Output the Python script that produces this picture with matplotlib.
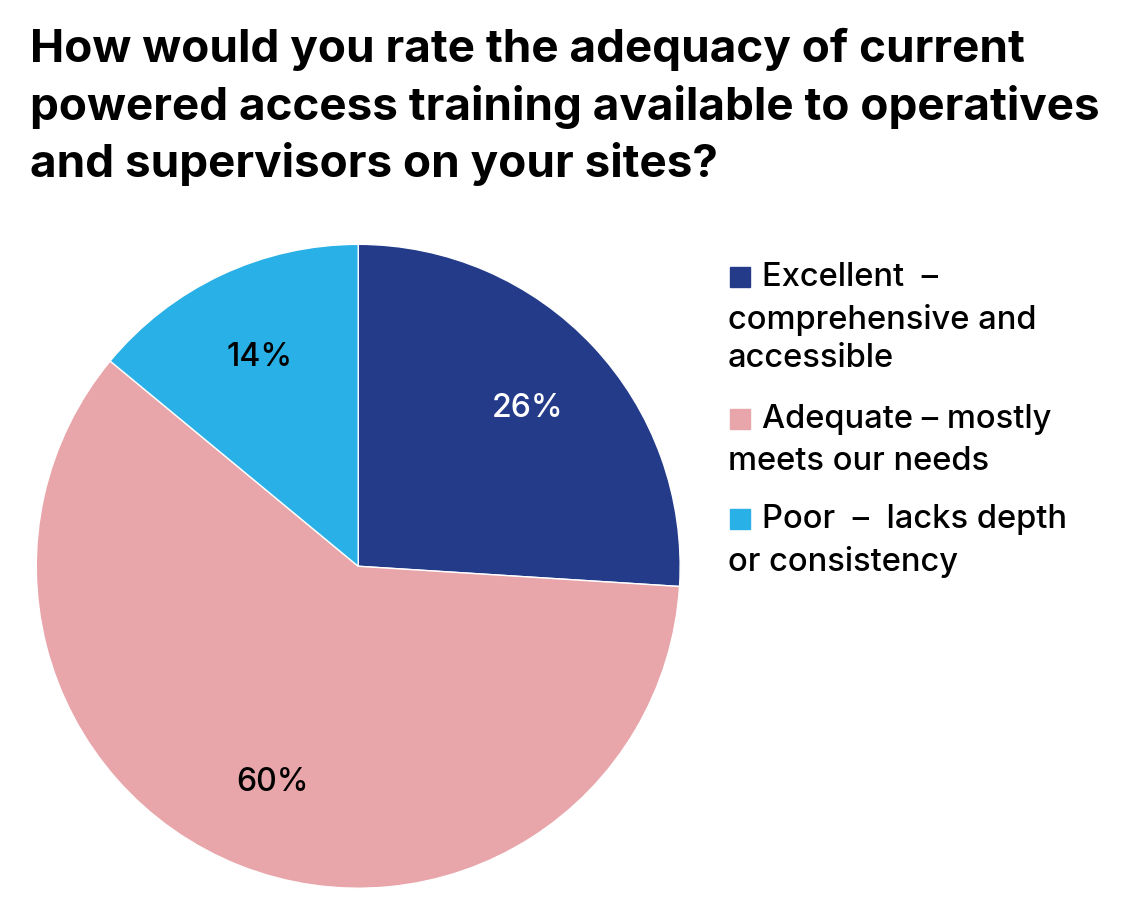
import matplotlib
matplotlib.use('Agg')
import matplotlib.pyplot as plt
from matplotlib.patches import Rectangle

plt.rcParams['font.family'] = ['Inter', 'DejaVu Sans']

labels = ['Excellent  –\ncomprehensive and\naccessible',
          'Adequate – mostly\nmeets our needs',
          'Poor  –  lacks depth\nor consistency']
values = [26, 60, 14]
colors = ['#243b8a', '#e8a5aa', '#29b0e6']
pct_colors = ['white', 'black', 'black']

fig = plt.figure(figsize=(11.30, 9.12), dpi=100)
ax = fig.add_axes([0.032, 0.025, 0.570, 0.706])
wedges, texts, autotexts = ax.pie(values, colors=colors, startangle=90, counterclock=False,
                                  autopct='%d%%', pctdistance=0.72,
                                  wedgeprops=dict(edgecolor='white', linewidth=1))
for t, c in zip(autotexts, pct_colors):
    t.set_color(c)
    t.set_fontsize(23)
    t.set_fontweight('medium')
ax.set_xlim(-1, 1)
ax.set_ylim(-1, 1)
ax.set_aspect('equal')

fig.text(30/1130, 1 - 28/912,
         'How would you rate the adequacy of current\npowered access training available to operatives\nand supervisors on your sites?',
         fontsize=33, fontweight='bold', va='top', ha='left', linespacing=1.38)

# Legend drawn by hand so the wrapped lines sit under the swatch
tops = [262, 404, 504]
for lab, col, top in zip(labels, colors, tops):
    fig.patches.append(Rectangle((730/1130, 1 - (top + 26)/912), 20/1130, 20/912,
                                 color=col, transform=fig.transFigure))
    lines = lab.split('\n')
    fig.text(762/1130, 1 - top/912, lines[0], fontsize=23.5, fontweight='medium', va='top')
    if len(lines) > 1:
        fig.text(728/1130, 1 - (top + 42)/912, '\n'.join(lines[1:]), fontsize=23.5,
                 fontweight='medium', va='top', linespacing=1.3)

fig.savefig('out.png', dpi=100, facecolor='white')
